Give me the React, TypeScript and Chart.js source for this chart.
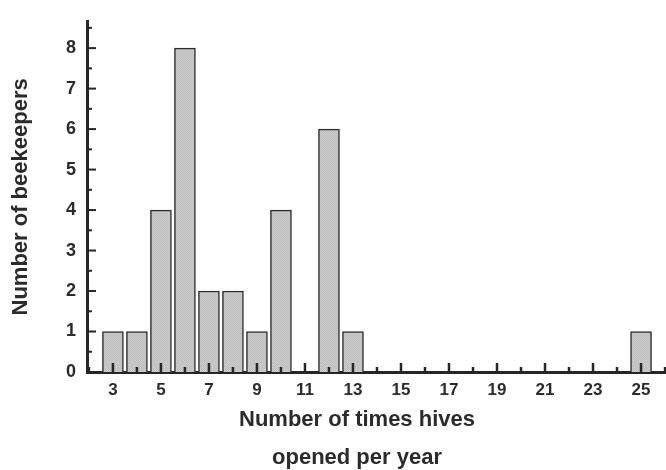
import React, { useEffect, useRef } from "react";
import { Chart, registerables } from "chart.js";

Chart.register(...registerables);

const timesOpened = [3, 4, 5, 6, 7, 8, 9, 10, 11, 12, 13, 14, 15, 16, 17, 18, 19, 20, 21, 22, 23, 24, 25];
const beekeepers = [1, 1, 4, 8, 2, 2, 1, 4, 0, 6, 1, 0, 0, 0, 0, 0, 0, 0, 0, 0, 0, 0, 1];
const xTickLabels = [3, 5, 7, 9, 11, 13, 15, 17, 19, 21, 23, 25];
const xMinorTicks = [2, 4, 6, 8, 10, 12, 14, 16, 18, 20, 22, 24, 26];
const yTickLabels = [0, 1, 2, 3, 4, 5, 6, 7, 8];
const yMinorTicks = [0.5, 1.5, 2.5, 3.5, 4.5, 5.5, 6.5, 7.5, 8.5];
const xTitleLines = ["Number of times hives", "opened per year"];
const yTitle = "Number of beekeepers";

const FONT = "'Liberation Sans', Arial, sans-serif";
const INK = "#262626";
const TEXT = "#2b2b2b";

export default function App() {
  const ref = useRef<HTMLCanvasElement | null>(null);

  useEffect(() => {
    const canvas = ref.current;
    if (!canvas) return;
    const ctx = canvas.getContext("2d")!;

    // subtle screen texture for bars
    const pc = document.createElement("canvas");
    pc.width = 2;
    pc.height = 2;
    const p = pc.getContext("2d")!;
    p.fillStyle = "#cdcdcd";
    p.fillRect(0, 0, 2, 2);
    p.fillStyle = "#bdbdbd";
    p.fillRect(0, 0, 1, 1);
    p.fillRect(1, 1, 1, 1);
    const pattern = ctx.createPattern(pc, "repeat") || "#c6c6c6";

    const innerTicks = {
      id: "innerTicks",
      afterDatasetsDraw(chart: any) {
        const c = chart.ctx;
        const xs = chart.scales.x;
        const ys = chart.scales.y;
        const area = chart.chartArea;
        c.save();
        c.strokeStyle = INK;
        c.lineWidth = 2;
        const x0 = xs.getPixelForValue(xs.min);
        const y0 = ys.getPixelForValue(0);
        yTickLabels.forEach((v) => {
          const y = ys.getPixelForValue(v);
          c.beginPath();
          c.moveTo(x0, y);
          c.lineTo(x0 + 9, y);
          c.stroke();
        });
        yMinorTicks.forEach((v) => {
          const y = ys.getPixelForValue(v);
          if (y < area.top) return;
          c.beginPath();
          c.moveTo(x0, y);
          c.lineTo(x0 + 5, y);
          c.stroke();
        });
        c.lineWidth = 2.5;
        xTickLabels.forEach((v) => {
          const x = xs.getPixelForValue(v);
          c.beginPath();
          c.moveTo(x, y0);
          c.lineTo(x, y0 - 9);
          c.stroke();
        });
        xMinorTicks.forEach((v) => {
          const x = xs.getPixelForValue(v);
          if (x > area.right) return;
          c.beginPath();
          c.moveTo(x, y0);
          c.lineTo(x, y0 - 5);
          c.stroke();
        });
        c.restore();
      },
      afterDraw(chart: any) {
        const c = chart.ctx;
        c.save();
        c.fillStyle = TEXT;
        c.font = `bold 22px ${FONT}`;
        c.textAlign = "center";
        c.textBaseline = "alphabetic";
        c.fillText(xTitleLines[0], 357, 426);
        c.fillText(xTitleLines[1], 357, 464);
        c.restore();
      },
    };

    const chart = new Chart(ctx, {
      type: "bar",
      data: {
        datasets: [
          {
            data: timesOpened.map((x, i) => ({ x, y: beekeepers[i] })),
            backgroundColor: pattern as any,
            borderColor: "#2e2e2e",
            borderWidth: 1.5,
            borderSkipped: "bottom",
            barThickness: 21,
          },
        ],
      },
      options: {
        animation: false,
        responsive: false,
        maintainAspectRatio: false,
        layout: { padding: { top: 15, right: 0, left: 0, bottom: 0 } },
        plugins: { legend: { display: false }, tooltip: { enabled: false } },
        scales: {
          x: {
            type: "linear",
            min: 1.92,
            max: 26.04,
            offset: false,
            grid: { display: false, drawTicks: false },
            border: { display: true, width: 3, color: INK },
            afterBuildTicks: (s: any) => {
              s.ticks = xTickLabels.map((v) => ({ value: v }));
            },
            afterFit: (s: any) => {
              s.height = 98;
            },
            ticks: {
              autoSkip: false,
              maxRotation: 0,
              padding: 8,
              color: TEXT,
              font: { family: FONT, size: 17, weight: "bold" },
              callback: (v: any) => String(v),
            },
          },
          y: {
            type: "linear",
            min: 0,
            max: 8.65,
            grid: { display: false, drawTicks: false },
            border: { display: true, width: 3, color: INK },
            afterBuildTicks: (s: any) => {
              s.ticks = yTickLabels.map((v) => ({ value: v }));
            },
            afterFit: (s: any) => {
              s.width = 87;
            },
            ticks: {
              padding: 11,
              color: TEXT,
              font: { family: FONT, size: 18, weight: "bold" },
              callback: (v: any) => String(v),
            },
            title: {
              display: true,
              text: yTitle,
              color: TEXT,
              font: { family: FONT, size: 22, weight: "bold" },
              padding: { top: 8, bottom: 0 },
            },
          },
        },
      },
      plugins: [innerTicks],
    });

    return () => chart.destroy();
  }, []);

  return (
    <div style={{ position: "absolute", left: 0, top: 0, width: 666, height: 470, background: "#fff" }}>
      <canvas ref={ref} width={666} height={470} style={{ width: 666, height: 470, display: "block" }} />
    </div>
  );
}
